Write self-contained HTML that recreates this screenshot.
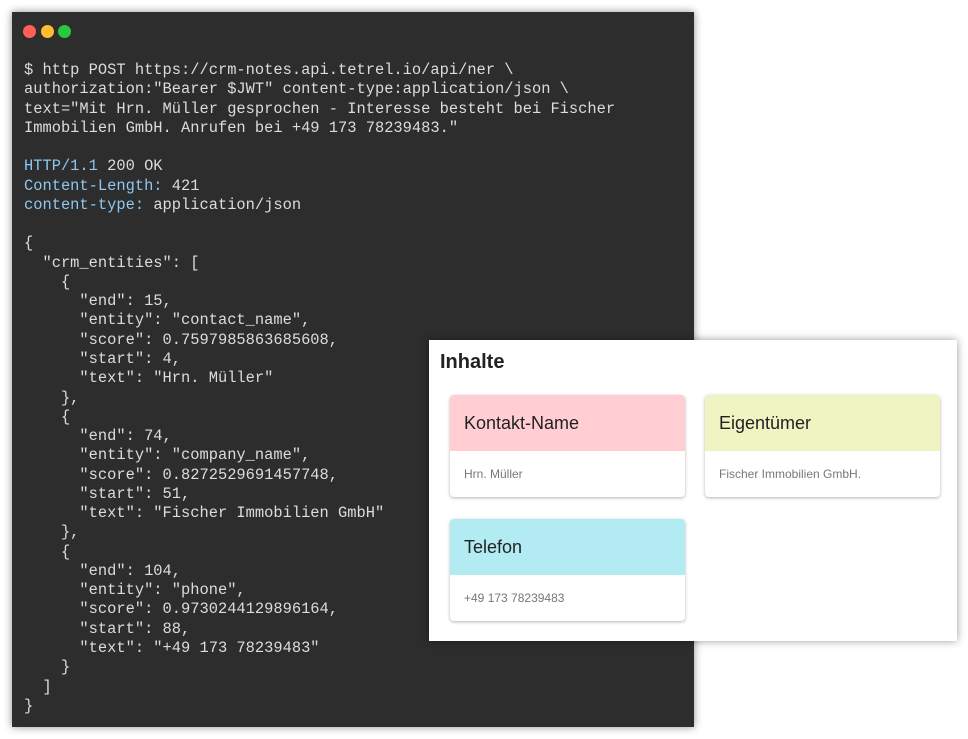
<!DOCTYPE html>
<html><head><meta charset="utf-8"><style>
html,body{margin:0;padding:0;width:968px;height:739px;background:#fff;overflow:hidden;position:relative}
.term{position:absolute;left:12px;top:12px;width:682px;height:715px;background:#2d2d2d;box-shadow:0 0 8px rgba(0,0,0,.45)}
.dot{position:absolute;top:13px;width:13px;height:13px;border-radius:50%}
pre{position:absolute;left:24px;top:61px;margin:0;font-family:"Liberation Mono","DejaVu Sans Mono",monospace;font-size:15.4px;line-height:19.27px;color:#dcdcdc;white-space:pre}
.b{color:#8cc8f0}
.panel{position:absolute;left:429px;top:340px;width:528px;height:301px;background:#fff;box-shadow:0 0 8px rgba(0,0,0,.4);font-family:"Liberation Sans",Roboto,sans-serif}
.panel h1{position:absolute;left:11px;top:11px;margin:0;font-size:20px;font-weight:bold;color:#222}
.card{position:absolute;width:235px;height:102px;background:#fff;border-radius:4px;box-shadow:0 1px 3px rgba(0,0,0,.3);overflow:hidden}
.card .h{height:56px;line-height:56px;padding-left:14px;font-size:18px;color:#222}
.card .t{padding-left:14px;font-size:12px;color:#777;line-height:46px}
</style></head><body>
<div class="term">
<div class="dot" style="left:11px;background:#ff5f57"></div>
<div class="dot" style="left:29px;background:#febc2e"></div>
<div class="dot" style="left:46px;background:#28c840"></div>
</div>
<pre>$ http POST https://crm-notes.api.tetrel.io/api/ner \
authorization:"Bearer $JWT" content-type:application/json \
text="Mit Hrn. Müller gesprochen - Interesse besteht bei Fischer
Immobilien GmbH. Anrufen bei +49 173 78239483."

<span class="b">HTTP/1.1</span> 200 OK
<span class="b">Content-Length:</span> 421
<span class="b">content-type:</span> application/json

{
  "crm_entities": [
    {
      "end": 15,
      "entity": "contact_name",
      "score": 0.7597985863685608,
      "start": 4,
      "text": "Hrn. Müller"
    },
    {
      "end": 74,
      "entity": "company_name",
      "score": 0.8272529691457748,
      "start": 51,
      "text": "Fischer Immobilien GmbH"
    },
    {
      "end": 104,
      "entity": "phone",
      "score": 0.9730244129896164,
      "start": 88,
      "text": "+49 173 78239483"
    }
  ]
}</pre>
<div class="panel">
<h1>Inhalte</h1>
<div class="card" style="left:21px;top:55px"><div class="h" style="background:#ffcdd2">Kontakt-Name</div><div class="t">Hrn. Müller</div></div>
<div class="card" style="left:276px;top:55px"><div class="h" style="background:#f0f4c3">Eigentümer</div><div class="t">Fischer Immobilien GmbH.</div></div>
<div class="card" style="left:21px;top:179px"><div class="h" style="background:#b2ebf2">Telefon</div><div class="t">+49 173 78239483</div></div>
</div>
</body></html>
